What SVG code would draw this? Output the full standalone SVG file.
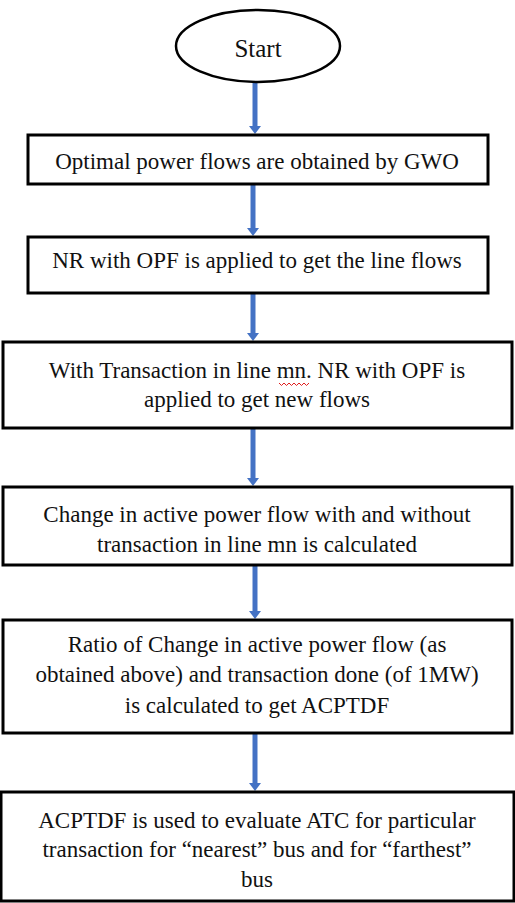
<svg xmlns="http://www.w3.org/2000/svg" width="515" height="903" viewBox="0 0 515 903">
<style>
.bg{fill:#fff}
.box{fill:#fff;stroke:#000;stroke-width:3}
.t{font-family:"Liberation Serif","DejaVu Serif","Times New Roman",serif;font-size:23px;fill:#111;text-anchor:middle}
.conn{stroke:#4472C4;stroke-width:5;fill:none;marker-end:url(#ah)}
</style>
<defs>
<marker id="ah" markerUnits="userSpaceOnUse" markerWidth="8" markerHeight="12" viewBox="0 0 8 12" refX="0" refY="6" orient="auto">
<path d="M0,0 L8,6 L0,12 z" fill="#4472C4"/>
</marker>
</defs>
<rect class="bg" x="0" y="0" width="515" height="903"/>
<g id="connectors">
<line class="conn" x1="255" y1="82" x2="255" y2="126"/>
<line class="conn" x1="253" y1="185" x2="253" y2="228"/>
<line class="conn" x1="253" y1="294" x2="253" y2="333"/>
<line class="conn" x1="253" y1="429" x2="253" y2="478"/>
<line class="conn" x1="255" y1="566" x2="255" y2="611"/>
<line class="conn" x1="255" y1="734" x2="255" y2="783"/>
</g>
<g id="start">
<ellipse cx="258" cy="46" rx="82" ry="36" fill="#fff" stroke="#000" stroke-width="2.5"/>
<text class="t" x="258" y="57" style="font-size:25px">Start</text>
</g>
<g id="n1">
<rect class="box" x="28" y="135" width="460" height="49"/>
<text class="t" x="257" y="169">Optimal power flows are obtained by GWO</text>
</g>
<g id="n2">
<rect class="box" x="28" y="237" width="460" height="56"/>
<text class="t" x="257" y="268">NR with OPF is applied to get the line flows</text>
</g>
<g id="n3">
<rect class="box" x="3" y="342" width="509" height="86"/>
<text class="t" x="257" y="378">With Transaction in line mn. NR with OPF is</text>
<text class="t" x="257" y="407">applied to get new flows</text>
<path d="M279,383 l2.5,2.5 l2.5,-2.5 l2.5,2.5 l2.5,-2.5 l2.5,2.5 l2.5,-2.5 l2.5,2.5 l2.5,-2.5 l2.5,2.5 l2.5,-2.5 l2.5,2.5 l2.5,-2.5" fill="none" stroke="#e02020" stroke-width="1"/>
</g>
<g id="n4">
<rect class="box" x="3" y="487" width="509" height="78"/>
<text class="t" x="257" y="522">Change in active power flow with and without</text>
<text class="t" x="257" y="552">transaction in line mn is calculated</text>
</g>
<g id="n5">
<rect class="box" x="3" y="620" width="509" height="113"/>
<text class="t" x="257" y="652">Ratio of Change in active power flow (as</text>
<text class="t" x="257" y="682">obtained above) and transaction done (of 1MW)</text>
<text class="t" x="257" y="713">is calculated to get ACPTDF</text>
</g>
<g id="n6">
<rect class="box" x="1" y="792" width="513" height="109"/>
<text class="t" x="257" y="828">ACPTDF is used to evaluate ATC for particular</text>
<text class="t" x="257" y="857">transaction for “nearest” bus and for “farthest”</text>
<text class="t" x="257" y="887">bus</text>
</g>
</svg>
